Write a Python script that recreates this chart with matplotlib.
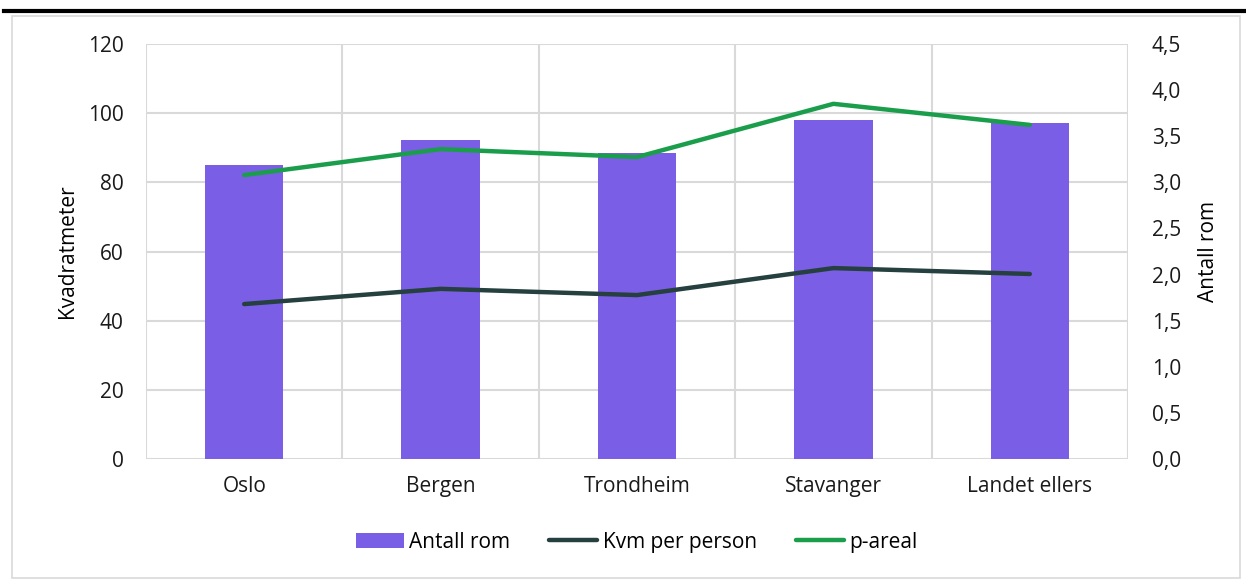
import numpy as np
import matplotlib.pyplot as plt
from matplotlib.patches import Rectangle
from matplotlib.lines import Line2D

plt.rcParams['font.family'] = ['Open Sans', 'DejaVu Sans']

steder = ["Oslo", "Bergen", "Trondheim", "Stavanger", "Landet ellers"]
antall_rom = [3.19, 3.46, 3.32, 3.68, 3.64]
kvm_per_person = [44.8, 49.2, 47.4, 55.2, 53.5]
p_areal = [82.1, 89.6, 87.3, 102.7, 96.6]

purple = "#7B5EE6"
dark = "#25403F"
green = "#1B9E4B"
grid_c = "#D9D9D9"
fs = 15

fig = plt.figure(figsize=(12.46, 5.81), dpi=100)
# outer frame and the thick rule at the top
fig.patches.append(Rectangle((12/1246, 3/581), 1228/1246, 562/581, transform=fig.transFigure,
                             fill=False, edgecolor=grid_c, linewidth=1.2))
fig.add_artist(Line2D([4/1246, 1], [1 - 11/581, 1 - 11/581], transform=fig.transFigure,
                      color="black", linewidth=3))

ax = fig.add_axes([146/1246, 1 - 459/581, 982/1246, 415/581])
ax2 = ax.twinx()
x = np.arange(len(steder))

# bars belong to the right axis, draw right axis below left
ax.set_zorder(ax2.get_zorder() + 1)
ax.patch.set_visible(False)

ax2.bar(x, antall_rom, width=0.4, color=purple, label="Antall rom", zorder=2)
ax.plot(x, kvm_per_person, color=dark, linewidth=3.2, solid_capstyle="round", label="Kvm per person")
ax.plot(x, p_areal, color=green, linewidth=3.2, solid_capstyle="round", label="p-areal")

ax.set_xlim(-0.5, 4.5)
ax.set_ylim(0, 120)
ax.set_yticks(np.arange(0, 121, 20))
ax2.set_ylim(0, 4.5)
ax2.set_yticks(np.arange(0, 4.51, 0.5))
ax2.set_yticklabels([f"{v:.1f}".replace(".", ",") for v in np.arange(0, 4.51, 0.5)])

ax.set_xticks(x)
ax.set_xticklabels(steder)

# grid: horizontal at left ticks, vertical at category borders
for yv in np.arange(0, 121, 20):
    ax2.axhline(yv / 120 * 4.5, color=grid_c, linewidth=1.5, zorder=0)
for xv in np.arange(-0.5, 4.6, 1):
    ax2.axvline(xv, color=grid_c, linewidth=1.5, zorder=0)

for a in (ax, ax2):
    for s in a.spines.values():
        s.set_visible(False)
    a.tick_params(length=0, labelsize=fs, colors="#1a1a1a")
ax.tick_params(axis="y", pad=16)
ax2.tick_params(axis="y", pad=17)
ax.tick_params(axis="x", pad=12)

ax.set_ylabel("Kvadratmeter", fontsize=fs, labelpad=7)
ax2.set_ylabel("Antall rom", fontsize=fs, labelpad=12)

h1, l1 = ax2.get_legend_handles_labels()
h2, l2 = ax.get_legend_handles_labels()
fig.legend(h1 + h2, l1 + l2, loc="center", bbox_to_anchor=(0.511, 0.067), ncol=3,
           frameon=False, fontsize=fs, handlelength=2.3, handletextpad=0.25, columnspacing=1.9)

fig.savefig("out.png", dpi=100)
